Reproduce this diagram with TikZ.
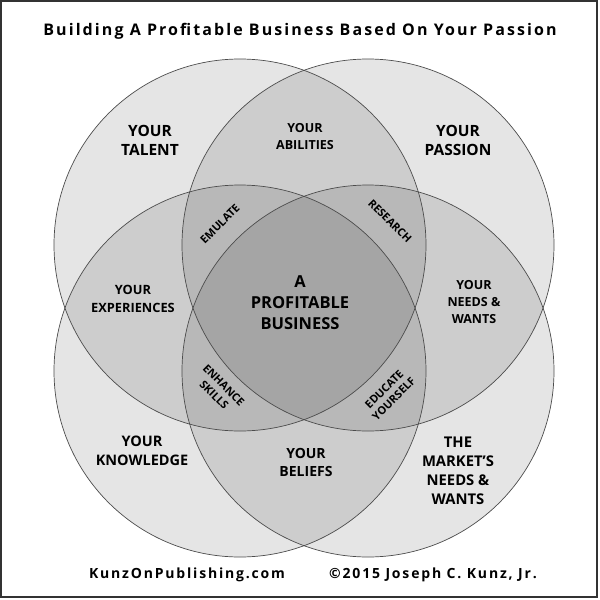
\documentclass[tikz,border=0pt]{standalone}
\usepackage{fontspec}
\setmainfont{Open Sans}
\newfontfamily\spacedfont[LetterSpace=13]{Open Sans}
\begin{document}
\begin{tikzpicture}[x=1pt, y=-1pt,
        lbl/.style={align=center, inner sep=0pt, font=\bfseries\fontsize{15.5}{19}\selectfont},
        small/.style={align=center, inner sep=0pt, font=\bfseries\fontsize{12.5}{17}\selectfont},
        tiny/.style={align=center, inner sep=0pt, font=\bfseries\fontsize{11}{13.5}\selectfont},
        ring/.style={draw=black!70, line width=0.7pt}]
    \useasboundingbox (0,0) rectangle (600,600);
    \fill[white] (0,0) rectangle (600,600);
    \draw[black!80, line width=1.5pt] (0.75,0.75) rectangle (597,597);
    % circle centres
    \coordinate (talent) at (240,245);
    \coordinate (passion) at (368,245);
    \coordinate (knowledge) at (240,371);
    \coordinate (market) at (368,371);
    \foreach \c in {talent,passion,knowledge,market}
        \fill[black, opacity=0.1] (\c) circle (186);
    \foreach \c in {talent,passion,knowledge,market}
        \draw[ring] (\c) circle (186);
    \node[font=\spacedfont\bfseries\fontsize{16}{18}\selectfont] (title) at (300,31) {Building A Profitable Business Based On Your Passion};
    \node[lbl] (tal) at (150,140) {YOUR\\TALENT};
    \node[small] (abl) at (305,137) {YOUR\\ABILITIES};
    \node[lbl] (pas) at (458,140) {YOUR\\PASSION};
    \node[tiny, rotate=45] (emu) at (220,224) {EMULATE};
    \node[tiny, rotate=-45] (res) at (390,221) {RESEARCH};
    \node[lbl, font=\bfseries\fontsize{12.8}{18}\selectfont] (exp) at (133,299) {YOUR\\EXPERIENCES};
    \node[lbl, font=\bfseries\fontsize{16.5}{21}\selectfont] (biz) at (300,303) {A\\PROFITABLE\\BUSINESS};
    \node[small] (nee) at (474,302) {YOUR\\NEEDS \&\\WANTS};
    \node[tiny, rotate=-45] (enh) at (219,390) {ENHANCE\\SKILLS};
    \node[tiny, rotate=45] (edu) at (389,394) {EDUCATE\\YOURSELF};
    \node[lbl, font=\bfseries\fontsize{14.5}{19}\selectfont] (kno) at (142,451) {YOUR\\KNOWLEDGE};
    \node[lbl, font=\bfseries\fontsize{14}{18}\selectfont] (bel) at (306,462) {YOUR\\BELIEFS};
    \node[lbl, font=\bfseries\fontsize{14.8}{19}\selectfont] (mkt) at (458,471) {THE\\MARKET’S\\NEEDS \&\\WANTS};
    \node[font=\spacedfont\bfseries\fontsize{14}{18}\selectfont] (web) at (187,575) {KunzOnPublishing.com};
    \node[font=\spacedfont\bfseries\fontsize{14}{18}\selectfont] (cpy) at (433,575) {©2015 Joseph C. Kunz, Jr.};
\end{tikzpicture}
\end{document}
